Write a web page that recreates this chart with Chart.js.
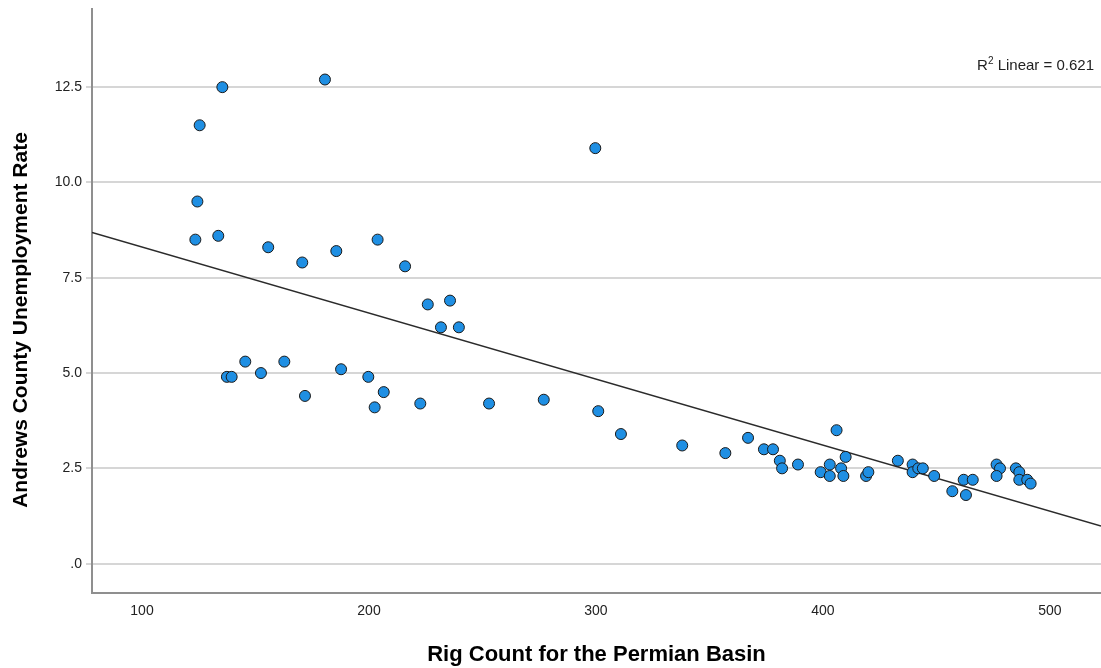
<!DOCTYPE html>
<html>
<head>
<meta charset="utf-8">
<script src="https://cdn.jsdelivr.net/npm/chart.js@4.4.1/dist/chart.umd.min.js"></script>
<style>
    html, body { margin: 0; padding: 0; background: #fff; overflow: hidden; }
    #wrap { position: relative; width: 1101px; height: 668px; }
    #chart-rig { display: block; }
    #r2 {
        position: absolute; right: 7px; top: 57px;
        font: 15px 'Liberation Sans', Arial, sans-serif; line-height: 16px; color: #222;
    }
    #r2 sup { font-size: 10px; vertical-align: 6px; line-height: 0; }
</style>
</head>
<body>
<div id="wrap">
    <canvas id="chart-rig" width="1101" height="668"></canvas>
    <div id="r2">R<sup>2</sup> Linear = 0.621</div>
</div>
<script>
// Dados
const rigCount = [
    135.4, 180.6, 125.4, 124.4, 123.5, 133.6, 155.6, 170.6, 185.6, 203.8,
    215.9, 225.9, 235.7, 231.7, 239.6, 137.4, 139.5, 145.5, 152.4, 162.7,
    171.8, 187.7, 199.7, 206.5, 202.5, 222.6, 299.7, 252.9, 277.0, 301.0,
    311.0, 338.0, 357.0, 367.0, 374.0, 378.0, 381.0, 382.0, 389.0, 399.0,
    403.0, 403.0, 406.0, 408.0, 409.0, 410.0, 419.0, 420.0, 433.0, 439.5,
    439.5, 442.0, 444.0, 449.0, 457.0, 462.0, 466.0, 463.0, 476.5, 478.0,
    476.5, 485.0, 486.5, 486.5, 490.0, 491.5
];
const unemployment = [
    12.5, 12.7, 11.5, 9.5, 8.5, 8.6, 8.3, 7.9, 8.2, 8.5,
    7.8, 6.8, 6.9, 6.2, 6.2, 4.9, 4.9, 5.3, 5.0, 5.3,
    4.4, 5.1, 4.9, 4.5, 4.1, 4.2, 10.9, 4.2, 4.3, 4.0,
    3.4, 3.1, 2.9, 3.3, 3.0, 3.0, 2.7, 2.5, 2.6, 2.4,
    2.6, 2.3, 3.5, 2.5, 2.3, 2.8, 2.3, 2.4, 2.7, 2.6,
    2.4, 2.5, 2.5, 2.3, 1.9, 2.2, 2.2, 1.8, 2.6, 2.5,
    2.3, 2.5, 2.4, 2.2, 2.2, 2.1
];
const xTicks = [100, 200, 300, 400, 500];
const yTicks = [0, 2.5, 5, 7.5, 10, 12.5];

const X_MIN = 77.97, X_MAX = 522.5;
const Y_MIN = -0.77, Y_MAX = 14.55;

const FONT = "'Liberation Sans', Arial, sans-serif";

// Reta de regressão (mínimos quadrados)
function linearFit(xs, ys) {
    const n = xs.length;
    let sx = 0, sy = 0, sxx = 0, sxy = 0;
    for (let i = 0; i < n; i++) {
        sx += xs[i]; sy += ys[i];
        sxx += xs[i] * xs[i]; sxy += xs[i] * ys[i];
    }
    const b = (n * sxy - sx * sy) / (n * sxx - sx * sx);
    const a = (sy - b * sx) / n;
    return { a, b };
}

// Título do eixo Y desenhado à parte (fica um pouco abaixo do centro no original)
const yTitlePlugin = {
    id: 'yTitle',
    afterDraw(chart) {
        const c = chart.ctx;
        c.save();
        c.translate(21, 320);
        c.rotate(-Math.PI / 2);
        c.font = 'bold 21px ' + FONT;
        c.fillStyle = '#000';
        c.textAlign = 'center';
        c.textBaseline = 'middle';
        c.fillText('Andrews County Unemployment Rate', 0, 0);
        c.restore();
    }
};

function initChart() {
    const ctx = document.getElementById('chart-rig');
    const fit = linearFit(rigCount, unemployment);
    const points = rigCount.map((x, i) => ({ x: x, y: unemployment[i] }));
    const fitLine = [X_MIN, X_MAX].map(x => ({ x: x, y: fit.a + fit.b * x }));

    new Chart(ctx, {
        type: 'scatter',
        data: {
            datasets: [
                {
                    label: 'Andrews County Unemployment Rate',
                    data: points,
                    backgroundColor: '#1f8fe3',
                    borderColor: '#1a1a1a',
                    borderWidth: 1,
                    pointRadius: 5.5,
                    order: 1
                },
                {
                    type: 'line',
                    label: 'Fit',
                    data: fitLine,
                    borderColor: '#2b2b2b',
                    borderWidth: 1.3,
                    pointRadius: 0,
                    fill: false,
                    order: 2
                }
            ]
        },
        plugins: [yTitlePlugin],
        options: {
            responsive: false,
            animation: false,
            layout: { autoPadding: false, padding: { top: 9, right: 0, bottom: 0, left: 0 } },
            plugins: {
                legend: { display: false },
                tooltip: { enabled: false }
            },
            scales: {
                x: {
                    type: 'linear',
                    min: X_MIN,
                    max: X_MAX,
                    afterBuildTicks: s => { s.ticks = xTicks.map(v => ({ value: v })); },
                    afterFit: s => {
                        s.height = 75;
                        s.paddingLeft = 0;
                        s.paddingRight = 0;
                    },
                    grid: { display: false, drawTicks: false },
                    border: { color: '#8f8f8f', width: 2 },
                    ticks: {
                        color: '#222',
                        padding: 10,
                        font: { family: FONT, size: 14 }
                    },
                    title: {
                        display: true,
                        text: 'Rig Count for the Permian Basin',
                        color: '#000',
                        font: { family: FONT, size: 22, weight: 'bold' },
                        padding: { top: 0, bottom: 0 }
                    }
                },
                y: {
                    min: Y_MIN,
                    max: Y_MAX,
                    afterBuildTicks: s => { s.ticks = yTicks.map(v => ({ value: v })); },
                    afterFit: s => {
                        s.width = 92;
                        s.paddingTop = 0;
                        s.paddingBottom = 0;
                    },
                    grid: { color: '#d6d6d6', lineWidth: 2, tickLength: 6 },
                    border: { color: '#8f8f8f', width: 2 },
                    ticks: {
                        color: '#222',
                        padding: 4,
                        font: { family: FONT, size: 14 },
                        callback: function(value) {
                            return value === 0 ? '.0' : value.toFixed(1);
                        }
                    },
                    title: { display: false }
                }
            }
        }
    });
}

if (document.readyState === 'loading') {
    document.addEventListener('DOMContentLoaded', initChart);
} else {
    initChart();
}
</script>
</body>
</html>
